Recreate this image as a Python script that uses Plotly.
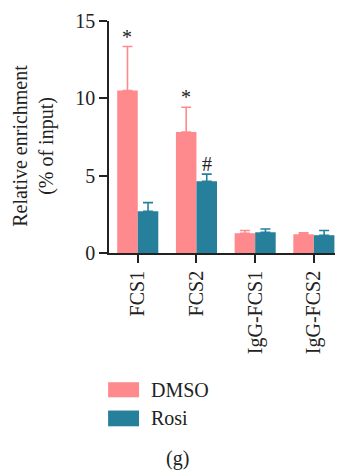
import plotly.graph_objects as go

# ChIP-qPCR enrichment at the two FCS sites, with IgG controls
categories = ["FCS1", "FCS2", "IgG-FCS1", "IgG-FCS2"]
series_names = ["DMSO", "Rosi"]
dmso_mean = [10.5, 7.82, 1.28, 1.21]
dmso_err = [2.85, 1.6, 0.17, 0.09]
rosi_mean = [2.7, 4.64, 1.34, 1.15]
rosi_err = [0.56, 0.46, 0.21, 0.3]
y_ticks = [0, 5, 10, 15]

# significance marks: (category index, series index, symbol)
marks = [(0, 0, "*"), (1, 0, "*"), (1, 1, "#")]

colors = ["#FF8A8E", "#27809B"]
FONT = "Liberation Serif"

fig = go.Figure()
for name, means, errs, col in zip(series_names, [dmso_mean, rosi_mean],
                                  [dmso_err, rosi_err], colors):
    fig.add_trace(go.Bar(
        x=categories, y=means, name=name, marker_color=col,
        marker_line_width=0,
        error_y=dict(type="data", symmetric=False, array=errs,
                     arrayminus=[0] * len(errs), color=col,
                     thickness=1.6, width=5),
        showlegend=False,
    ))

bargap = 0.3
half = (1 - bargap) / 2
for ci, si, sym in marks:
    means = [dmso_mean, rosi_mean][si]
    errs = [dmso_err, rosi_err][si]
    xpos = ci - half / 2 if si == 0 else ci + half / 2
    fig.add_annotation(x=xpos, y=means[ci] + errs[ci], xref="x", yref="y",
                       text=sym, showarrow=False, yanchor="bottom",
                       yshift=-3, font=dict(family=FONT, size=20, color="#222"))

# legend drawn as swatches with labels
legend_rows = [(-0.557, -0.622), (-0.679, -0.747)]
for (y0, y1), name, col in zip(legend_rows, series_names, colors):
    fig.add_shape(type="rect", xref="paper", yref="paper",
                  x0=-0.004, x1=0.133, y0=y1, y1=y0,
                  fillcolor=col, line_width=0)
    fig.add_annotation(xref="paper", yref="paper", x=0.177, y=(y0 + y1) / 2,
                       text=name, showarrow=False, xanchor="left",
                       yanchor="middle",
                       font=dict(family=FONT, size=20, color="#222"))

fig.add_annotation(xref="paper", yref="paper", x=0.301, y=-0.886,
                   text="(g)", showarrow=False, xanchor="center",
                   yanchor="middle", font=dict(family=FONT, size=20, color="#222"))

fig.add_annotation(xref="paper", yref="paper", x=-0.334, y=0.46,
                   text="Relative enrichment<br>(% of input)", textangle=-90,
                   showarrow=False, xanchor="center", yanchor="middle",
                   font=dict(family=FONT, size=20, color="#222"))

fig.update_layout(
    width=340, height=470,
    margin=dict(l=109, r=5, t=21, b=217.3, pad=0),
    paper_bgcolor="white", plot_bgcolor="white",
    barmode="group", bargap=bargap, bargroupgap=0,
    font=dict(family=FONT, size=20, color="#222"),
)
fig.update_xaxes(
    type="category", range=[-0.49, 3.36], showline=True, linecolor="#222",
    linewidth=1.6, ticks="outside", ticklen=8, tickwidth=1.6,
    tickcolor="#222", tickangle=-90, showgrid=False, zeroline=False,
    tickfont=dict(family=FONT, size=20, color="#222"),
)
fig.update_yaxes(
    range=[0, 15], tickvals=y_ticks, showline=True, linecolor="#222",
    linewidth=1.6, ticks="outside", ticklen=8, tickwidth=1.6,
    tickcolor="#222", showgrid=False, zeroline=False,
    tickfont=dict(family=FONT, size=20, color="#222"),
)

fig.write_html("out.html")
